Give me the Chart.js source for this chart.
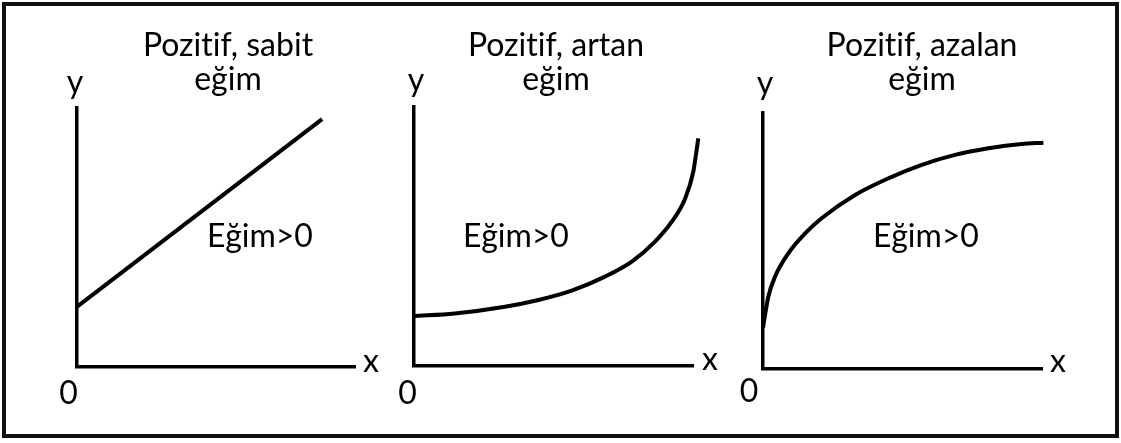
<!DOCTYPE html>
<html>
<head>
<meta charset="utf-8">
<script src="https://cdn.jsdelivr.net/npm/chart.js@4/dist/chart.umd.min.js"></script>
<style>
  body { margin: 0; background: #fff; }
  #page { position: relative; width: 1121px; height: 443px; overflow: hidden; background: #fff; }
  #frame { position: absolute; left: 2px; top: 2px; width: 1117px; height: 436px; box-sizing: border-box; border: 4px solid #111; }
  canvas { position: absolute; top: 0; }
  .lbl { position: absolute; font-family: Lato, "Open Sans", sans-serif; font-size: 32px; line-height: 38.4px; color: #000; white-space: nowrap;
         transform: translateX(-50%); font-variant-ligatures: none; font-feature-settings: "liga" 0, "clig" 0; }
</style>
</head>
<body>
<div id="page">
  <div id="frame"></div>
  <canvas id="c0" width="373" height="443" style="left:0px"></canvas>
  <canvas id="c1" width="373" height="443" style="left:373px"></canvas>
  <canvas id="c2" width="375" height="443" style="left:746px"></canvas>
</div>
<script>
// panel titles (two lines each)
var panelTitles = [["Pozitif, sabit", "eğim"], ["Pozitif, artan", "eğim"], ["Pozitif, azalan", "eğim"]]
var slopeLabel = "Eğim>0"
var axisNames = ["x", "y", "0"]

// curves, in axis units 0..10 (axis drawn from 0 to 10)
var sabitX = [0, 8.82]
var sabitY = [2.30, 9.57]
var artanX = [0, 1.48, 3.27, 4.47, 5.66, 6.85, 7.81, 8.64, 9.24, 9.72, 10.01, 10.19]
var artanY = [1.93, 2.03, 2.29, 2.55, 2.91, 3.45, 4.03, 4.80, 5.57, 6.47, 7.50, 8.79]
var azalanX = [0, 0.19, 0.43, 0.91, 1.51, 2.10, 3.30, 4.49, 5.69, 6.88, 8.08, 9.27, 10.05]
var azalanY = [1.60, 2.81, 3.59, 4.51, 5.29, 5.88, 6.79, 7.44, 7.97, 8.36, 8.62, 8.79, 8.84]

// where each panel sits on the page (pixels)
var panels = [
    { canvas: "c0", left: 0,   width: 373, ox: 76.5, oy: 366.5, xEnd: 355,  yTop: 108, xs: sabitX,  ys: sabitY,  smooth: false,
      titleX: 228, yLbl: [75, 94],  zeroLbl: [68.5, 405], xLbl: [371, 373],  slope: [260, 248] },
    { canvas: "c1", left: 373, width: 373, ox: 413.5, oy: 366, xEnd: 693,  yTop: 107, xs: artanX,  ys: artanY,  smooth: true,
      titleX: 556, yLbl: [416, 92], zeroLbl: [407.5, 405], xLbl: [710, 371], slope: [516, 248] },
    { canvas: "c2", left: 746, width: 375, ox: 763, oy: 368.5, xEnd: 1042, yTop: 113, xs: azalanX, ys: azalanY, smooth: true,
      titleX: 922, yLbl: [765, 95], zeroLbl: [749, 403], xLbl: [1058, 373], slope: [926, 248] }
]

function addLabel(text, cx, baseline) {
    var d = document.createElement("div")
    d.className = "lbl"
    d.textContent = text
    d.style.left = cx + "px"
    d.style.top = (baseline - 31.6) + "px"
    document.getElementById("page").appendChild(d)
}

panels.forEach(function (p, idx) {
    var points = p.xs.map(function (x, i) { return { x: x, y: p.ys[i] } })
    new Chart(document.getElementById(p.canvas).getContext("2d"), {
        type: "line",
        data: {
            datasets: [{
                data: points,
                borderColor: "#000",
                borderWidth: 4,
                pointRadius: 0,
                fill: false,
                clip: false,
                tension: p.smooth ? 0.4 : 0,
                cubicInterpolationMode: p.smooth ? "monotone" : "default",
            }],
        },
        options: {
            responsive: false,
            animation: false,
            devicePixelRatio: 1,
            layout: {
                padding: { left: p.ox - p.left, right: p.left + p.width - p.xEnd, top: p.yTop, bottom: 443 - p.oy },
            },
            plugins: { legend: { display: false }, tooltip: { enabled: false }, title: { display: false } },
            scales: {
                x: {
                    type: "linear", bounds: "data",
                    // axis stops at 10, the curve may run a little past it
                    afterDataLimits: function (scale) { scale.min = 0; scale.max = 10 },
                    grid: { display: false, drawTicks: false },
                    ticks: { display: false },
                    border: { display: true, color: "#000", width: 3.5 },
                },
                y: {
                    type: "linear", min: 0, max: 10,
                    grid: { display: false, drawTicks: false },
                    ticks: { display: false },
                    border: { display: true, color: "#000", width: 3.5 },
                },
            },
        },
    })

    addLabel(panelTitles[idx][0], p.titleX, 56.7)
    addLabel(panelTitles[idx][1], p.titleX, 90.5)
    addLabel(axisNames[1], p.yLbl[0], p.yLbl[1])
    addLabel(axisNames[2], p.zeroLbl[0], p.zeroLbl[1])
    addLabel(axisNames[0], p.xLbl[0], p.xLbl[1])
    addLabel(slopeLabel, p.slope[0], p.slope[1])
})
</script>
</body>
</html>
